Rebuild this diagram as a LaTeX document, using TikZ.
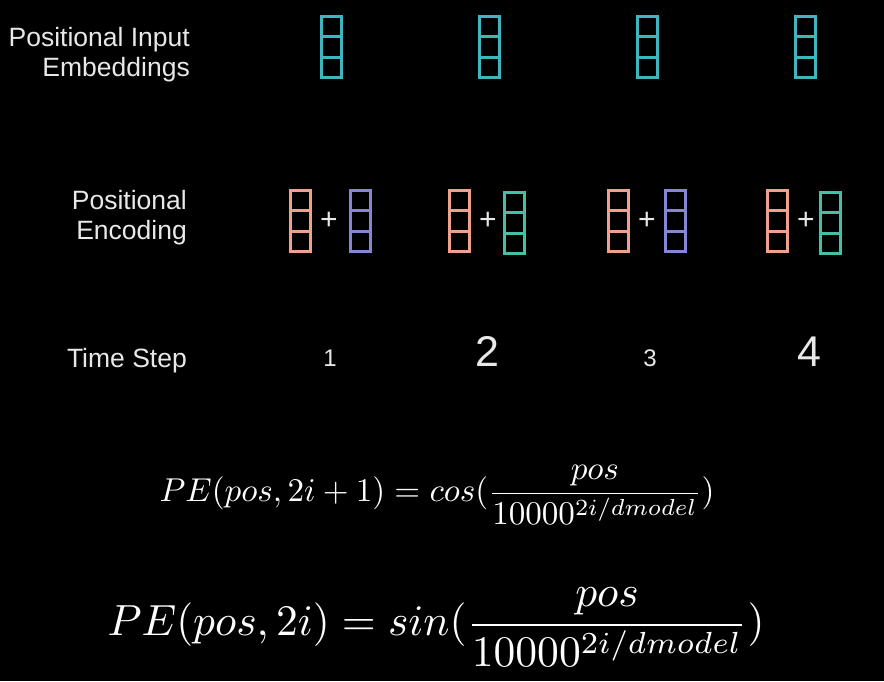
\documentclass[tikz,border=0pt]{standalone}
\usepackage{fontspec}
\setmainfont{Liberation Sans}
\usepackage{amsmath}
\usetikzlibrary{calc}
\definecolor{cyanv}{HTML}{3FB5C0}
\definecolor{pinkv}{HTML}{F2A08E}
\definecolor{purplev}{HTML}{8785D6}
\definecolor{greenv}{HTML}{43C0A6}
\definecolor{txt}{HTML}{E8E8E8}
\tikzset{
  vec/.style={draw=#1, line width=3pt, minimum width=20pt, minimum height=61pt, inner sep=0pt,
    path picture={\foreach \f in {1,2}{\draw[#1, line width=3pt]
      ($(path picture bounding box.north west)!\f/3!(path picture bounding box.south west)$) --
      ($(path picture bounding box.north east)!\f/3!(path picture bounding box.south east)$);}}},
  lbl/.style={text=txt, font=\fontsize{26.5}{30}\selectfont, align=right, inner sep=0pt},
  plussign/.style={text=txt, font=\fontsize{30}{30}\selectfont, inner sep=0pt},
  small num/.style={text=txt, font=\fontsize{24}{24}\selectfont, inner sep=0pt, anchor=base},
  big num/.style={text=txt, font=\fontsize{43}{43}\selectfont, inner sep=0pt, anchor=base},
  formula/.style={text=white, inner sep=0pt, transform shape},
}
\begin{document}
\begin{tikzpicture}[x=1pt, y=-1pt]
\fill[black] (0,0) rectangle (884,681);
\useasboundingbox (0,0) rectangle (884,681);

% labels
\node[lbl, anchor=north east] (l1) at (190,27) {Positional Input\\Embeddings};
\node[lbl, anchor=north east] (l2) at (187,190) {Positional\\Encoding};
\node[lbl, anchor=base east] (l3) at (187,367) {Time Step};

% input embeddings
\node[vec=cyanv] (e1) at (331.5,47) {};
\node[vec=cyanv] (e2) at (489,47) {};
\node[vec=cyanv] (e3) at (647,47) {};
\node[vec=cyanv] (e4) at (805,47) {};

% positional encodings
\node[vec=pinkv] (p1) at (300.5,221) {};
\node[plussign] (s1) at (329,221) {+};
\node[vec=purplev] (q1) at (360.5,221) {};

\node[vec=pinkv] (p2) at (459.5,221) {};
\node[plussign] (s2) at (488,221) {+};
\node[vec=greenv] (q2) at (514.5,223) {};

\node[vec=pinkv] (p3) at (618.5,221) {};
\node[plussign] (s3) at (647,221) {+};
\node[vec=purplev] (q3) at (675,221) {};

\node[vec=pinkv] (p4) at (777.5,221) {};
\node[plussign] (s4) at (806,221) {+};
\node[vec=greenv] (q4) at (830.5,223) {};

% time steps
\node[small num] (t1) at (330,366) {1};
\node[big num] (t2) at (487,366) {2};
\node[small num] (t3) at (650,366) {3};
\node[big num] (t4) at (809,366) {4};

% formulas
\node[formula, scale=3.31] (f1) at (437,495) {$\displaystyle PE(pos,2i+1) = cos(\frac{pos}{10000^{2i/dmodel}})$};
\node[formula, scale=4.36] (f2) at (436,627) {$\displaystyle PE(pos,2i) = sin(\frac{pos}{10000^{2i/dmodel}})$};
\end{tikzpicture}
\end{document}
